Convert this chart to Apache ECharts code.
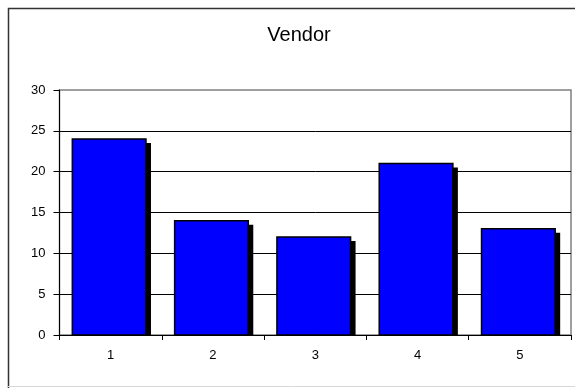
<!DOCTYPE html>
<html>
<head>
<meta charset="utf-8">
<script src="https://cdn.jsdelivr.net/npm/echarts@6/dist/echarts.min.js"></script>
<style>
  html, body { margin: 0; padding: 0; background: #fff; }
  #chart { width: 575px; height: 388px; }
</style>
</head>
<body>
<div id="chart"></div>
<script>
// Vendor counts by category
const categories = ['1', '2', '3', '4', '5'];
const vendorValues = [24, 14, 12, 21, 13];
const yTicks = { min: 0, max: 30, interval: 5 };

const chart = echarts.init(document.getElementById('chart'), null, { renderer: 'canvas' });

// Each bar is drawn with a solid black drop shadow that stops at the axis.
function renderBar(params, api) {
  const idx = api.value(0);
  const val = api.value(1);
  const top = api.coord([idx, val]);
  const base = api.coord([idx, 0]);
  const bandW = api.size([1, 0])[0];
  const w = bandW * 0.72;
  const x = top[0] - w / 2 - 1.5;
  const h = base[1] - top[1];
  return {
    type: 'group',
    children: [
      {
        type: 'rect',
        shape: { x: x + 5, y: top[1] + 4, width: w, height: h - 4 },
        style: { fill: '#000' }
      },
      {
        type: 'rect',
        shape: { x: x, y: top[1], width: w, height: h },
        style: { fill: '#0000FF', stroke: '#000', lineWidth: 1.5 }
      }
    ]
  };
}

chart.setOption({
  animation: false,
  backgroundColor: '#fff',
  textStyle: { fontFamily: 'Liberation Sans, Arial, sans-serif' },
  graphic: [
    {
      type: 'polyline',
      shape: { points: [[8.5, 388], [8.5, 8.5], [575, 8.5]] },
      style: { stroke: '#333', lineWidth: 1.5, fill: null },
      silent: true
    },
    {
      type: 'line',
      shape: { x1: 8, y1: 386.5, x2: 575, y2: 386.5 },
      style: { stroke: '#d8d8d8', lineWidth: 1 },
      silent: true
    },
    {
      type: 'text',
      x: 299,
      y: 35,
      style: {
        text: 'Vendor',
        fill: '#000',
        align: 'center',
        verticalAlign: 'middle',
        font: '20px "Liberation Sans", Arial, sans-serif'
      }
    }
  ],
  grid: {
    left: 59.5,
    right: 4,
    top: 90,
    bottom: 53,
    show: true,
    borderColor: '#808080',
    borderWidth: 1.5,
    backgroundColor: 'transparent'
  },
  xAxis: {
    type: 'category',
    data: categories,
    boundaryGap: true,
    axisLine: { show: true, lineStyle: { color: '#000', width: 1 } },
    axisTick: { show: true, length: 5, lineStyle: { color: '#000' } },
    axisLabel: { color: '#000', fontSize: 13, margin: 14 },
    splitLine: { show: false }
  },
  yAxis: {
    type: 'value',
    min: yTicks.min,
    max: yTicks.max,
    interval: yTicks.interval,
    axisLine: { show: true, lineStyle: { color: '#000', width: 1 } },
    axisTick: { show: true, length: 6, lineStyle: { color: '#000' } },
    axisLabel: { color: '#000', fontSize: 13, margin: 14 },
    splitLine: { show: true, showMaxLine: false, lineStyle: { color: '#000', width: 1 } }
  },
  series: [
    {
      type: 'custom',
      renderItem: renderBar,
      data: vendorValues.map((v, i) => [i, v]),
      encode: { x: 0, y: 1 },
      z: 5
    }
  ]
});
</script>
</body>
</html>
